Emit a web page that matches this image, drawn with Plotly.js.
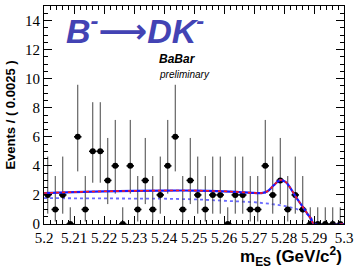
<!DOCTYPE html>
<html><head><meta charset="utf-8">
<script src="https://cdn.plot.ly/plotly-3.0.1.min.js"></script>
<style>html,body{margin:0;padding:0;background:#fff}#c{width:359px;height:273px}</style>
</head><body><div id="c"></div>
<script>
// bin centres (GeV/c^2), bin width 0.0025
const binCenters = [5.20125,5.20375,5.20625,5.20875,5.21125,5.21375,5.21625,5.21875,5.22125,5.22375,
  5.22625,5.22875,5.23125,5.23375,5.23625,5.23875,5.24125,5.24375,5.24625,5.24875,
  5.25125,5.25375,5.25625,5.25875,5.26125,5.26375,5.26625,5.26875,5.27125,5.27375,
  5.27625,5.27875,5.28125,5.28375,5.28625,5.28875,5.29125,5.29375,5.29625,5.29875];
const counts = [2,1,2,0,6,1,5,5,3,4, 0,4,1,3,1,2,4,6,1,3, 2,1,2,2,0,2,2,1,1,4, 2,3,1,2,1,0,0,0,0,0];
// Poisson 68% interval half-widths read per count 0..6
const poisUp = [1.15,2.30,2.64,2.92,3.16,3.38,3.58];
const poisDn = [0,0.83,1.29,1.63,1.91,2.16,2.38];
// fitted total curve
const fitX = [5.200,5.210,5.220,5.230,5.240,5.250,5.260,5.265,5.270,5.2725,5.2745,5.2765,5.2787,5.2805,5.2822,5.284,5.286,5.2875,5.289,5.290,5.300];
const fitY = [2.13,2.20,2.25,2.28,2.30,2.30,2.25,2.20,2.14,2.13,2.25,2.65,3.02,2.90,2.45,1.85,1.25,0.80,0.35,0.0,0.0];
// background component
const bkgX = [5.200,5.220,5.240,5.250,5.260,5.270,5.275,5.280,5.284,5.287,5.289,5.290,5.300];
const bkgY = [1.78,1.77,1.74,1.70,1.62,1.50,1.40,1.25,1.05,0.80,0.45,0.0,0.0];

const eUp = counts.map(c => poisUp[c]);
const eDn = counts.map(c => poisDn[c]);

const traces = [
  {x: bkgX, y: bkgY, mode:'lines', line:{color:'#6a6aff', width:1.8, dash:'dot'}, hoverinfo:'skip'},
  {x: binCenters, y: counts, mode:'markers', marker:{color:'#000', size:6},
   error_y:{type:'data', symmetric:false, array:eUp, arrayminus:eDn, color:'#444', thickness:1, width:0},
   error_x:{type:'constant', value:0.00125, color:'#000', thickness:1.5, width:0}},
  {x: fitX, y: fitY, mode:'lines', line:{color:'#1a1aff', width:2.2, shape:'spline'}, hoverinfo:'skip'},
  {x: fitX, y: fitY, mode:'lines', line:{color:'#ff1a1a', width:1.6, dash:'dot', shape:'spline'}, hoverinfo:'skip'}
];

const tickFont = {family:'Liberation Serif, Times New Roman, serif', size:15, color:'#000'};
const layout = {
  width:359, height:273,
  margin:{l:44, r:15, t:6, b:49},
  paper_bgcolor:'#fff', plot_bgcolor:'#fff',
  showlegend:false,
  xaxis:{range:[5.2,5.3], dtick:0.01, tick0:5.2, ticks:'inside', ticklen:8, tickcolor:'#000',
    showline:true, linecolor:'#000', linewidth:1, mirror:'ticks', showgrid:false, zeroline:false,
    tickfont:tickFont, tickformat:'.2~f',
    minor:{dtick:0.002, ticks:'inside', ticklen:4, tickcolor:'#000', showgrid:false}},
  yaxis:{range:[0,15], dtick:2, ticks:'inside', ticklen:8, tickcolor:'#000',
    showline:true, linecolor:'#000', linewidth:1, mirror:'ticks', showgrid:false, zeroline:false,
    tickfont:tickFont,
    minor:{dtick:0.5, ticks:'inside', ticklen:4, tickcolor:'#000', showgrid:false},
    title:{text:'<b>Events / ( 0.0025 )</b>', font:{family:'Liberation Sans, Arial, sans-serif', size:13, color:'#000'}, standoff:6}},
  annotations:[
    {xref:'paper', yref:'paper', x:1.0, y:-0.148, xanchor:'right', yanchor:'middle', showarrow:false,
     text:'<b>m<sub>ES</sub> (GeV/c<sup>2</sup>)</b>', font:{family:'Liberation Sans, Arial, sans-serif', size:17, color:'#000'}},
    {xref:'paper', yref:'paper', x:0.065, y:0.895, xanchor:'left', yanchor:'middle', showarrow:false,
     text:'<b><i>B<sup>-</sup>⟶DK<sup>-</sup></i></b>', font:{family:'Liberation Sans, DejaVu Sans, Arial, sans-serif', size:34, color:'#4343b4'}},
    {xref:'paper', yref:'paper', x:0.377, y:0.758, xanchor:'left', yanchor:'middle', showarrow:false,
     text:'<b><i>BaBar</i></b>', font:{family:'Liberation Sans, Arial, sans-serif', size:12, color:'#000'}},
    {xref:'paper', yref:'paper', x:0.377, y:0.688, xanchor:'left', yanchor:'middle', showarrow:false,
     text:'<i>preliminary</i>', font:{family:'Liberation Sans, Arial, sans-serif', size:10, color:'#000'}}
  ]
};
Plotly.newPlot('c', traces, layout, {displayModeBar:false, staticPlot:true});
</script></body></html>
